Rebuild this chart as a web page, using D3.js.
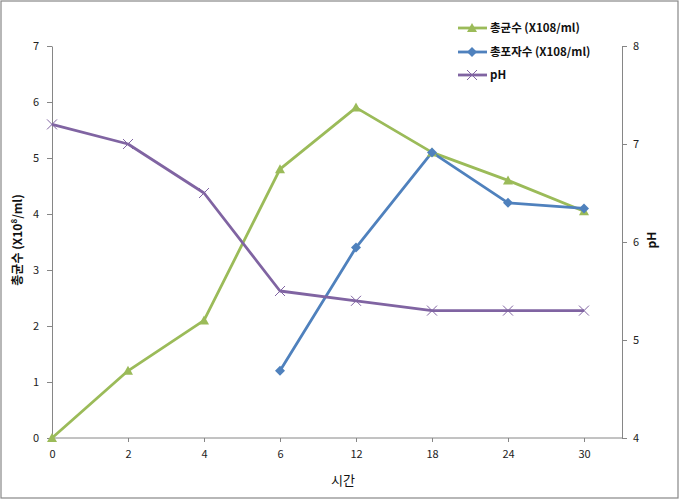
<!DOCTYPE html>
<html><head><meta charset="utf-8">
<script src="https://cdn.jsdelivr.net/npm/d3@7"></script>
<style>body{margin:0;background:#fff}svg{display:block}text{font-family:"Noto Sans CJK KR","Noto Sans",sans-serif}</style>
</head><body><svg id="c" width="679" height="500"></svg>
<script>
const categories = ["0","2","4","6","12","18","24","30"];
const totalBacteria = [0, 1.2, 2.1, 4.8, 5.9, 5.1, 4.6, 4.05];
const sporeCount = [null, null, null, 1.2, 3.4, 5.1, 4.2, 4.1];
const phValues = [7.2, 7.0, 6.5, 5.5, 5.4, 5.3, 5.3, 5.3];
const leftTicks = [0,1,2,3,4,5,6,7];
const rightTicks = [4,5,6,7,8];
const seriesNames = ["총균수 (X108/ml)", "총포자수 (X108/ml)", "pH"];

const svg = d3.select("#c");
svg.append("rect").attr("x",1).attr("y",1).attr("width",677).attr("height",497)
  .attr("fill","#fff").attr("stroke","#888").attr("stroke-width",1.2);

const L=52, R=622, T=46, B=438;
const x = d3.scalePoint().domain(categories).range([L, 584]);
const yL = d3.scaleLinear().domain([0,7]).range([B,T]);
const yR = d3.scaleLinear().domain([4,8]).range([B,T]);

const axisColor="#868686", tickText="#222";
function styleAxis(g){
  g.selectAll("path,line").attr("stroke",axisColor);
  g.selectAll("text").attr("fill",tickText).attr("font-size",11).attr("font-family","'DejaVu Sans',sans-serif");
}
svg.append("g").attr("transform",`translate(${L},0)`)
  .call(d3.axisLeft(yL).tickValues(leftTicks).tickFormat(d3.format("d")).tickSize(5).tickSizeOuter(0).tickPadding(8)).call(styleAxis);
svg.append("g").attr("transform",`translate(${R},0)`)
  .call(d3.axisRight(yR).tickValues(rightTicks).tickFormat(d3.format("d")).tickSize(5).tickSizeOuter(0).tickPadding(6)).call(styleAxis);
const xg = svg.append("g").attr("transform",`translate(0,${B})`)
  .call(d3.axisBottom(x).tickSize(4).tickSizeOuter(0).tickPadding(8)).call(styleAxis);
xg.select("path.domain").attr("d",`M${L},0H${R}`);

// axis titles
svg.append("text").attr("transform",`translate(22,240) rotate(-90)`).attr("text-anchor","middle")
  .attr("font-size",12).attr("font-weight","bold").attr("fill","#111")
  .html('총균수 (X10<tspan baseline-shift="super" font-size="8">8</tspan>/ml)');
svg.append("text").attr("transform",`translate(656,240) rotate(-90)`).attr("text-anchor","middle")
  .attr("font-size",12).attr("font-weight","bold").attr("fill","#111").text("pH");
svg.append("text").attr("x",343).attr("y",485).attr("text-anchor","middle")
  .attr("font-size",13).attr("fill","#111").text("시간");

const colors=["#9BBB59","#4F81BD","#8064A2"];
function drawLine(vals, y, color){
  const line=d3.line().defined(d=>d!=null).x((d,i)=>x(categories[i])).y(d=>y(d));
  svg.append("path").datum(vals).attr("d",line).attr("fill","none")
    .attr("stroke",color).attr("stroke-width",2.8).attr("stroke-linejoin","round");
}
drawLine(totalBacteria,yL,colors[0]);
drawLine(sporeCount,yL,colors[1]);
drawLine(phValues,yR,colors[2]);

function tri(g,cx,cy,c){g.append("path").attr("d",`M${cx},${cy-5}L${cx+5},${cy+4}L${cx-5},${cy+4}Z`).attr("fill",c);}
function dia(g,cx,cy,c){g.append("path").attr("d",`M${cx},${cy-5}L${cx+5},${cy}L${cx},${cy+5}L${cx-5},${cy}Z`).attr("fill",c);}
function cross(g,cx,cy,c){g.append("path").attr("d",`M${cx-5},${cy-5}L${cx+5},${cy+5}M${cx+5},${cy-5}L${cx-5},${cy+5}`).attr("stroke",c).attr("stroke-width",1);}
const mg=svg.append("g");
totalBacteria.forEach((v,i)=>{if(v!=null)tri(mg,x(categories[i]),yL(v),colors[0]);});
sporeCount.forEach((v,i)=>{if(v!=null)dia(mg,x(categories[i]),yL(v),colors[1]);});
phValues.forEach((v,i)=>{if(v!=null)cross(mg,x(categories[i]),yR(v),colors[2]);});

// legend
const ly=[28,52,75];
const markers=[tri,dia,cross];
seriesNames.forEach((n,i)=>{
  const g=svg.append("g");
  g.append("line").attr("x1",458).attr("x2",487).attr("y1",ly[i]).attr("y2",ly[i]).attr("stroke",colors[i]).attr("stroke-width",2.8);
  markers[i](g,472,ly[i],colors[i]);
  g.append("text").attr("x",490).attr("y",ly[i]+4).attr("font-size",11.5).attr("font-weight","bold").attr("fill","#111").text(n);
});
</script></body></html>
